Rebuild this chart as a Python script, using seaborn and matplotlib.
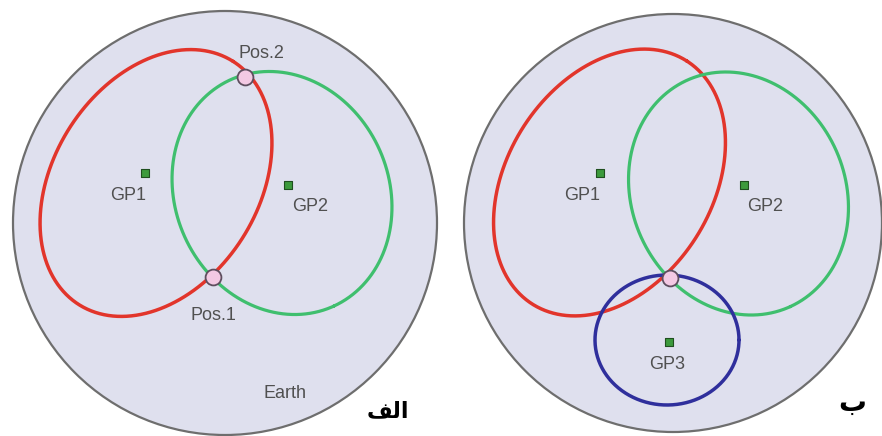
import numpy as np
import pandas as pd
import matplotlib.pyplot as plt
import seaborn as sns
from matplotlib.patches import Circle, Rectangle

# ---------------- datos (coordenadas en pixeles de la figura) ----------------
earth_cx = [225, 673]
earth_cy = [223, 223]
earth_r = [212, 209]

# elipses: panel, nombre, centro, semiejes, angulo (grados, eje y hacia arriba)
ell_panel = [0, 0, 1, 1, 1]
ell_name = ["red", "green", "red", "green", "blue"]
ell_cx = [156, 282, 609.5, 738.5, 667]
ell_cy = [183, 193, 182.5, 193.5, 340]
ell_a = [144, 124.4, 144, 124.4, 72]
ell_b = [102.5, 106.7, 102.5, 106.7, 65]
ell_ang = [57.6, -65.4, 57.6, -65.4, 0]
ell_colors = {"red": "#e2352b", "green": "#3fbf6e", "blue": "#2f2f9c"}

# puntos GP
gp_labels = ["GP1", "GP2", "GP1", "GP2", "GP3"]
gp_x = [145, 288, 600, 744, 669]
gp_y = [173, 185, 173, 185, 342]
gp_tx = [128, 310, 582, 765, 667]
gp_ty = [195, 206, 195, 206, 364]

# posiciones (intersecciones)
pos_x = [245, 213, 670]
pos_y = [77, 277, 278]
pos_labels = ["Pos.2", "Pos.1", ""]
pos_tx = [261, 213, 0]
pos_ty = [53, 315, 0]

# ---------------- figura ----------------
sns.set_theme(style="white")
plt.rcParams['font.family'] = ['Liberation Sans', 'DejaVu Sans']

fig = plt.figure(figsize=(8.82, 4.36), dpi=100)
ax = fig.add_axes([0, 0, 1, 1])
ax.set_xlim(0, 882)
ax.set_ylim(436, 0)
ax.set_aspect('equal')
ax.axis('off')

# Tierra
for cx, cy, r in zip(earth_cx, earth_cy, earth_r):
    ax.add_patch(Circle((cx, cy), r, facecolor="#dfe0ee", edgecolor="#6e6e6e",
                        linewidth=1.6, zorder=1))

# elipses
t = np.linspace(0, 2 * np.pi, 300)
rows = []
for i in range(len(ell_cx)):
    th = np.deg2rad(ell_ang[i])
    x = ell_cx[i] + ell_a[i] * np.cos(th) * np.cos(t) - ell_b[i] * np.sin(th) * np.sin(t)
    y = ell_cy[i] - (ell_a[i] * np.sin(th) * np.cos(t) + ell_b[i] * np.cos(th) * np.sin(t))
    rows.append(pd.DataFrame({"x": x, "y": y, "curve": f"{ell_name[i]}{i}",
                              "color": ell_name[i]}))
df = pd.concat(rows)
for key, g in df.groupby("curve", sort=False):
    sns.lineplot(data=g, x="x", y="y", sort=False, estimator=None, ax=ax,
                 color=ell_colors[g["color"].iloc[0]],
                 linewidth=2.3 if "green" in key else 2.5, zorder=3)

# marcadores GP
sns.scatterplot(x=gp_x, y=gp_y, marker="s", s=28, color="#3c9a3c",
                edgecolor="#1f4f1f", linewidth=0.8, ax=ax, zorder=5)
for lab, tx, ty in zip(gp_labels, gp_tx, gp_ty):
    ax.text(tx, ty, lab, ha="center", va="center", fontsize=13,
            color="#505050", zorder=6)

# intersecciones
sns.scatterplot(x=pos_x, y=pos_y, marker="o", s=130, color="#f3c9e3",
                edgecolor="#5e4e5e", linewidth=1.3, ax=ax, zorder=5)
for lab, tx, ty in zip(pos_labels, pos_tx, pos_ty):
    if lab:
        ax.text(tx, ty, lab, ha="center", va="center", fontsize=13,
                color="#505050", zorder=6)

ax.text(285, 393, "Earth", ha="center", va="center", fontsize=13,
        color="#505050", zorder=6)

# etiquetas de panel
ax.add_patch(Rectangle((357, 396), 84, 40, facecolor="white", edgecolor="none", zorder=7))
ax.add_patch(Rectangle((816, 383), 66, 53, facecolor="white", edgecolor="none", zorder=7))
ax.text(388, 411, "\ufed2\ufedf\ufe8d", ha="center", va="center", fontsize=16,
        fontweight="bold", color="black", family=["DejaVu Sans"], zorder=8)
ax.text(852, 403, "\u0628", ha="center", va="center", fontsize=20,
        fontweight="bold", color="black", family=["DejaVu Sans"], zorder=8)

fig.savefig("out.png", dpi=100)
